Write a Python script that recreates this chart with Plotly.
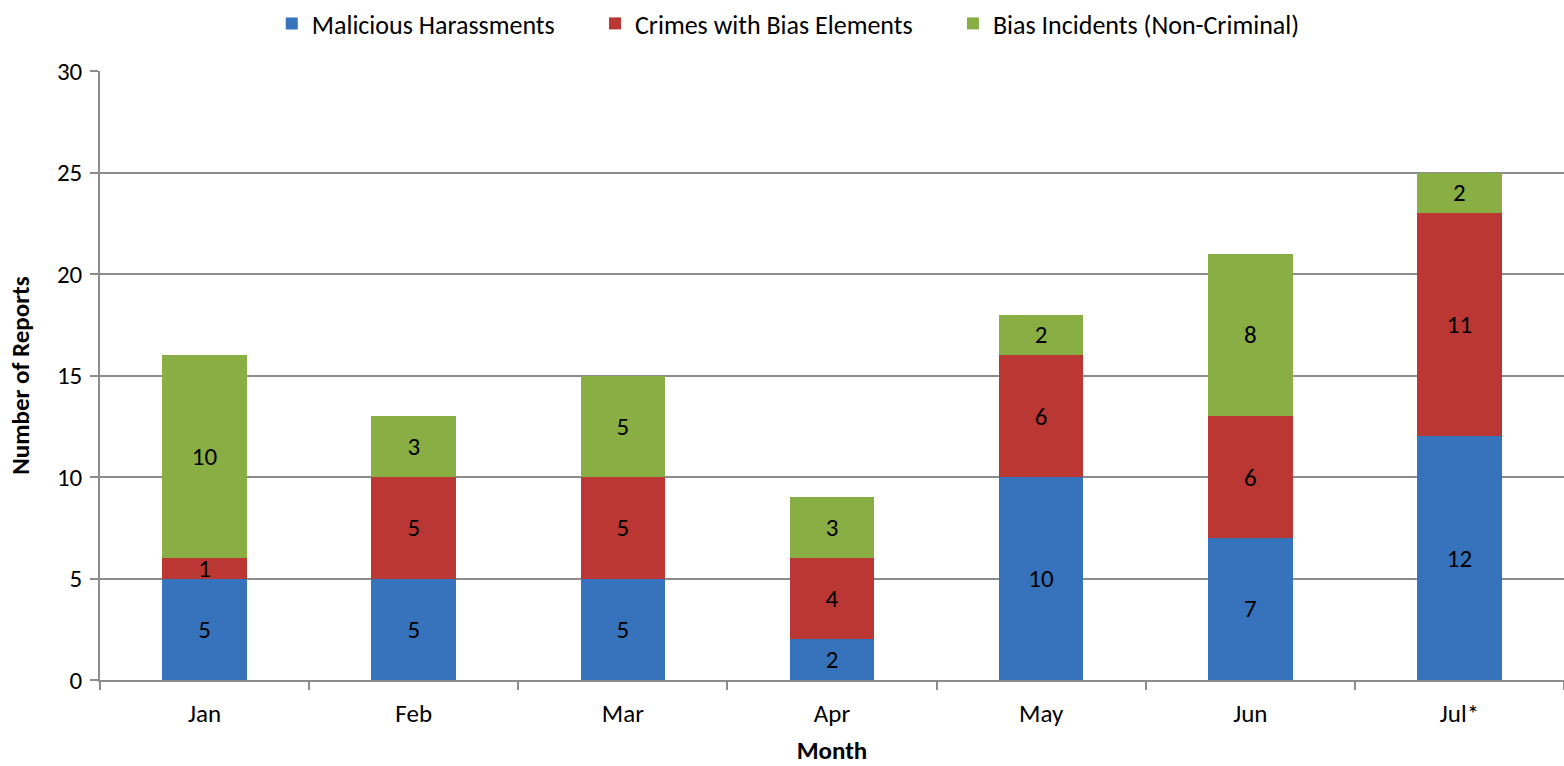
import plotly.graph_objects as go

months = ["Jan", "Feb", "Mar", "Apr", "May", "Jun", "Jul*"]
malicious = [5, 5, 5, 2, 10, 7, 12]
crimes = [1, 5, 5, 4, 6, 6, 11]
incidents = [10, 3, 5, 3, 2, 8, 2]

series = [
    ("Malicious Harassments", malicious, "#3773BD"),
    ("Crimes with Bias Elements", crimes, "#BA3734"),
    ("Bias Incidents (Non-Criminal)", incidents, "#89AE43"),
]

font_family = "Carlito, Calibri, Lato, 'Open Sans', sans-serif"
FS = 25
PAD = "&nbsp;" * 6

fig = go.Figure()
for i, (name, vals, color) in enumerate(series):
    label = name + (PAD if i < len(series) - 1 else "")
    fig.add_trace(go.Bar(
        x=months, y=vals, name=label,
        marker=dict(color=color, line=dict(width=0)),
        text=[str(v) for v in vals],
        textposition="inside",
        insidetextanchor="middle",
        constraintext="none",
        textangle=0,
        textfont=dict(color="black", size=FS, family=font_family),
        width=0.405,
    ))

fig.update_layout(
    barmode="stack",
    width=1564, height=766,
    paper_bgcolor="white", plot_bgcolor="white",
    margin=dict(l=100, r=0, t=71, b=86, autoexpand=False),
    font=dict(family=font_family, size=FS, color="black"),
    legend=dict(
        orientation="h", xref="container", x=0.504, xanchor="center",
        yref="container", y=1.0, yanchor="top",
        font=dict(size=26), traceorder="normal",
        itemwidth=30, tracegroupgap=0,
    ),
    showlegend=True,
)
fig.update_xaxes(
    title=dict(text="<b>Month</b>", font=dict(size=FS), standoff=32),
    automargin=False,
    showline=True, linecolor="#8c8c8c", linewidth=1.5,
    ticks="outside", tickson="boundaries", ticklen=8, tickcolor="#8c8c8c", tickwidth=1.5,
    ticklabelstandoff=10,
    tickfont=dict(size=FS), showgrid=False,
)
fig.update_yaxes(
    title=dict(text="<b>Number of Reports</b>", font=dict(size=FS), standoff=20),
    automargin=False,
    range=[0, 30], dtick=5,
    showline=True, linecolor="#8c8c8c", linewidth=1.5,
    ticks="outside", ticklen=8, tickcolor="#8c8c8c", tickwidth=1.5,
    ticklabelstandoff=3,
    showgrid=True, gridcolor="#8c8c8c", gridwidth=1.5,
    zeroline=False, tickfont=dict(size=FS),
)

fig.write_html(
    "out.html",
    config={"displayModeBar": False},
    post_script="document.body.style.margin='0';document.body.style.overflow='hidden';",
)
